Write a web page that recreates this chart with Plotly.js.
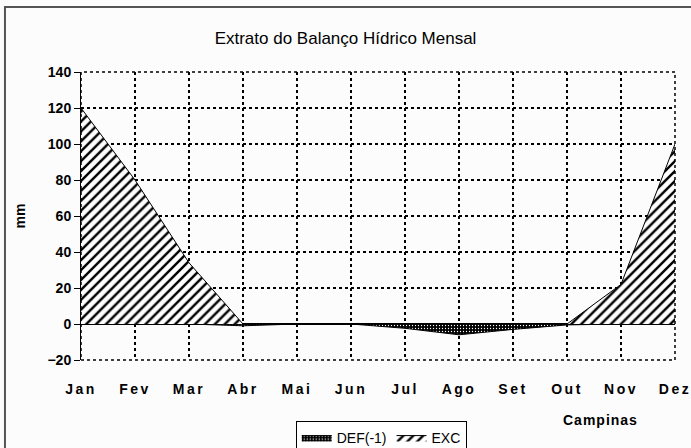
<!DOCTYPE html>
<html>
<head>
<meta charset="utf-8">
<script src="https://cdn.plot.ly/plotly-3.0.1.min.js"></script>
<style>
html,body{margin:0;padding:0;background:#fff;}
#chart{width:691px;height:448px;}
#chart .xtick text{letter-spacing:2.5px;}
#chart .annotation-text{letter-spacing:1px;}
</style>
</head>
<body>
<div id="chart"></div>
<script>
var months = ["Jan","Fev","Mar","Abr","Mai","Jun","Jul","Ago","Set","Out","Nov","Dez"];
var defValues = [0, 0, 0, -1, 0, 0, -2.4, -6, -3, -0.5, 0, 0];
var excValues = [120, 80, 34, 0, 0, 0, 0, 0, 0, 0, 22, 100];
var yTicks = [-20, 0, 20, 40, 60, 80, 100, 120, 140];

var xIdx = months.map(function(m, i){ return i; });

var traceDef = {
  x: xIdx, y: defValues, name: "DEF(-1)", type: "scatter", mode: "lines",
  fill: "tozeroy",
  line: {color: "#000", width: 1},
  fillcolor: "#000",
  fillpattern: {shape: ".", bgcolor: "#000", fgcolor: "#fff", size: 3, solidity: 0.15, fillmode: "replace"}
};
var traceExc = {
  x: xIdx, y: excValues, name: "EXC", type: "scatter", mode: "lines",
  fill: "tozeroy",
  line: {color: "#000", width: 1},
  fillcolor: "#fff",
  fillpattern: {shape: "/", bgcolor: "#fff", fgcolor: "#000", size: 7, solidity: 0.35, fillmode: "replace"}
};

var FAM = "Liberation Sans, Arial, sans-serif";

var layout = {
  width: 691, height: 448,
  margin: {l: 81, r: 16, t: 72, b: 88},
  paper_bgcolor: "#fcfcfc",
  plot_bgcolor: "#fcfcfc",
  showlegend: true,
  title: {
    text: "Extrato do Balanço Hídrico Mensal",
    font: {family: FAM, size: 17, color: "#000"},
    x: 0.5, xref: "container", y: 0.915, yref: "container", yanchor: "middle"
  },
  xaxis: {
    range: [0, 11],
    tickvals: xIdx, ticktext: months,
    showgrid: true, gridcolor: "#000", gridwidth: 1.5, griddash: "3px,3px",
    showline: false, zeroline: false,
    ticks: "", ticklabelstandoff: 19,
    tickfont: {family: FAM, size: 14, color: "#000", weight: "bold"},
    fixedrange: true, automargin: false
  },
  yaxis: {
    range: [-20, 140],
    tickvals: yTicks,
    showgrid: true, gridcolor: "#000", gridwidth: 1.5, griddash: "3px,3px",
    showline: true, linecolor: "#000", linewidth: 1,
    zeroline: true, zerolinecolor: "#000", zerolinewidth: 1.5,
    ticks: "outside", ticklen: 6, tickcolor: "#000",
    tickfont: {family: FAM, size: 14, color: "#000", weight: "bold"},
    title: {text: "mm", font: {family: FAM, size: 14, color: "#000", weight: "bold"}, standoff: 18},
    fixedrange: true, automargin: false
  },
  legend: {
    orientation: "h",
    xref: "container", yref: "container",
    x: 0.428, xanchor: "left", y: 0.0603, yanchor: "top",
    bgcolor: "#fff", bordercolor: "#000", borderwidth: 1,
    font: {family: FAM, size: 14, color: "#000"},
    itemwidth: 30, traceorder: "normal"
  },
  annotations: [{
    text: "Campinas", xref: "paper", yref: "paper",
    x: 0.874, y: -0.208, xanchor: "center", yanchor: "middle", showarrow: false,
    font: {family: FAM, size: 14, color: "#000", weight: "bold"}
  }],
  shapes: [
    {type: "rect", xref: "paper", yref: "paper", x0: -0.128, y0: -0.6, x1: 1.2, y1: 1.2257,
     line: {color: "#555", width: 2}, fillcolor: "rgba(0,0,0,0)", layer: "below"},
    {type: "rect", xref: "paper", yref: "paper", x0: 0, y0: 0, x1: 1, y1: 1,
     line: {color: "#000", width: 1.5, dash: "3px,3px"}, fillcolor: "rgba(0,0,0,0)", layer: "above"}
  ]
};

Plotly.newPlot("chart", [traceDef, traceExc], layout, {displayModeBar: false, staticPlot: true});
</script>
</body>
</html>
